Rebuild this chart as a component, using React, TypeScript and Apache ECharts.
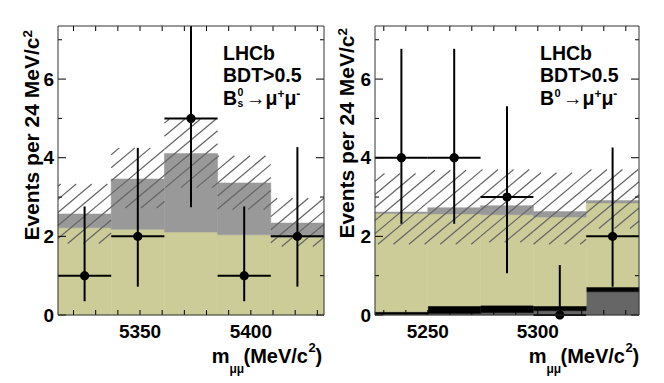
import React, { useEffect, useRef } from 'react';
import * as echarts from 'echarts';

const FF = '"Liberation Sans", Arial, Helvetica, sans-serif';

// ---------- left panel: Bs0 -> mu+ mu-
const bsEdges = [5313, 5337, 5361, 5385, 5409, 5433];
const bsCombinatorial = [2.22, 2.18, 2.11, 2.04, 1.98];
const bsSignal = [0.35, 1.28, 2.0, 1.32, 0.36];
const bsBandLow = [1.82, 2.72, 3.24, 2.68, 1.74];
const bsBandHigh = [3.33, 4.25, 4.98, 4.05, 2.97];
const bsObserved = [1, 2, 5, 1, 2];
const bsErrLow = [0.35, 0.72, 2.74, 0.35, 0.72];
const bsErrHigh = [2.76, 4.25, 7.35, 2.76, 4.27];
const bsXLabels = [5350, 5400];
const bsXTicks = [5320, 5330, 5340, 5350, 5360, 5370, 5380, 5390, 5400, 5410, 5420, 5430];

// ---------- right panel: B0 -> mu+ mu-
const bdEdges = [5226, 5250, 5274, 5298, 5322, 5346];
const bdPeaking = [0.02, 0.04, 0.06, 0.11, 0.59];
const bdMisId = [0.06, 0.19, 0.19, 0.12, 0.12];
const bdCombinatorial = [2.5, 2.34, 2.3, 2.26, 2.14];
const bdSignal = [0.04, 0.16, 0.23, 0.14, 0.06];
const bdBandLow = [1.8, 1.8, 1.85, 1.8, 2.2];
const bdBandHigh = [3.6, 3.68, 3.7, 3.62, 3.7];
const bdObserved = [4, 4, 3, 0, 2];
const bdErrLow = [2.32, 2.32, 1.06, 0, 0.72];
const bdErrHigh = [6.77, 6.77, 5.31, 1.27, 4.26];
const bdXLabels = [5250, 5300];
const bdXTicks = [5230, 5240, 5250, 5260, 5270, 5280, 5290, 5300, 5310, 5320, 5330, 5340];

// ---------- shared
const yLabels = [0, 2, 4, 6];
const yMinorTicks = [1, 3, 5, 7];
const Y_MAX = 7.35;

const KHAKI = '#cccc99';
const GRAY = '#999999';
const DARKGRAY = '#666666';
const BLACK = '#000000';

function histSeries(gi: number, edges: number[], layers: [number[], string][]) {
  const base = edges.slice(1).map(() => 0);
  return layers.map(([vals, color]) => {
    const data = vals.map((v, i) => {
      const d = [edges[i], edges[i + 1], base[i], base[i] + v];
      base[i] += v;
      return d;
    });
    return {
      type: 'custom', xAxisIndex: gi, yAxisIndex: gi, silent: true, clip: false,
      dimensions: ['x0', 'x1', 'y0', 'y1'], encode: { x: [0, 1], y: [2, 3] }, data,
      renderItem: (_p: any, api: any) => {
        const a = api.coord([api.value(0), api.value(3)]);
        const b = api.coord([api.value(1), api.value(2)]);
        return {
          type: 'rect',
          shape: { x: a[0], y: a[1], width: b[0] - a[0], height: b[1] - a[1] },
          style: { fill: color, stroke: color, lineWidth: 0.5 },
        };
      },
    };
  });
}

const HATCH_ANGLE = (40 * Math.PI) / 180;
const HATCH_GAP = 10;

function hatchSeries(gi: number, edges: number[], low: number[], high: number[]) {
  const data = low.map((l, i) => [edges[i], edges[i + 1], l, high[i]]);
  return {
    type: 'custom', xAxisIndex: gi, yAxisIndex: gi, silent: true, clip: false,
    dimensions: ['x0', 'x1', 'y0', 'y1'], encode: { x: [0, 1], y: [2, 3] }, data,
    renderItem: (_p: any, api: any) => {
      const a = api.coord([api.value(0), api.value(3)]);
      const b = api.coord([api.value(1), api.value(2)]);
      const x0 = a[0], x1 = b[0], yT = a[1], yB = b[1];
      const s = Math.sin(HATCH_ANGLE), c = Math.cos(HATCH_ANGLE);
      const kMin = s * x0 + c * yT, kMax = s * x1 + c * yB;
      const children: any[] = [];
      for (let k = Math.ceil(kMin / HATCH_GAP) * HATCH_GAP; k <= kMax; k += HATCH_GAP) {
        const xs = Math.max(x0, (k - c * yB) / s);
        const xe = Math.min(x1, (k - c * yT) / s);
        if (xe - xs < 0.5) continue;
        children.push({
          type: 'line',
          shape: { x1: xs, y1: (k - s * xs) / c, x2: xe, y2: (k - s * xe) / c },
          style: { stroke: '#666666', lineWidth: 1.25 },
        });
      }
      return { type: 'group', children };
    },
  };
}

function pointSeries(gi: number, edges: number[], obs: number[], lo: number[], hi: number[]) {
  const data = obs.map((v, i) => [(edges[i] + edges[i + 1]) / 2, v, edges[i], edges[i + 1], lo[i], hi[i]]);
  return {
    type: 'custom', xAxisIndex: gi, yAxisIndex: gi, silent: true, clip: false,
    dimensions: ['x', 'y', 'xl', 'xh', 'yl', 'yh'], encode: { x: 0, y: 1 }, data,
    renderItem: (_p: any, api: any) => {
      const c = api.coord([api.value(0), api.value(1)]);
      const l = api.coord([api.value(2), api.value(1)]);
      const r = api.coord([api.value(3), api.value(1)]);
      const lo2 = api.coord([api.value(0), api.value(4)]);
      const hi2 = api.coord([api.value(0), Math.min(api.value(5), Y_MAX)]);
      const st = { stroke: BLACK, lineWidth: 2 };
      return {
        type: 'group',
        children: [
          { type: 'line', shape: { x1: c[0], y1: lo2[1], x2: c[0], y2: hi2[1] }, style: st },
          { type: 'line', shape: { x1: l[0], y1: c[1], x2: r[0], y2: c[1] }, style: st },
          { type: 'circle', shape: { cx: c[0], cy: c[1], r: 4.6 }, style: { fill: BLACK } },
        ],
      };
    },
  };
}

function frameSeries(gi: number, xmin: number, xmax: number, xTicks: number[]) {
  const data = [
    ...xTicks.map((v) => [v, 0, 0]),
    ...yLabels.map((v) => [xmin, v, 1]),
    ...yMinorTicks.map((v) => [xmin, v, 2]),
    [xmin, 0, 3],
  ];
  return {
    type: 'custom', xAxisIndex: gi, yAxisIndex: gi, silent: true, clip: false, z: 10,
    dimensions: ['x', 'y', 'k'], encode: { x: 0, y: 1 }, data,
    renderItem: (_p: any, api: any) => {
      const k = api.value(2);
      const bl = api.coord([xmin, 0]);
      const tr = api.coord([xmax, Y_MAX]);
      const st = { stroke: BLACK, lineWidth: 1 };
      if (k === 3) {
        return {
          type: 'rect',
          shape: { x: bl[0], y: tr[1], width: tr[0] - bl[0], height: bl[1] - tr[1] },
          style: { fill: 'none', stroke: '#333333', lineWidth: 1 },
        };
      }
      if (k === 0) {
        const x = api.coord([api.value(0), 0])[0];
        return {
          type: 'group',
          children: [
            { type: 'line', shape: { x1: x, y1: bl[1], x2: x, y2: bl[1] - 5 }, style: st },
            { type: 'line', shape: { x1: x, y1: tr[1], x2: x, y2: tr[1] + 5 }, style: st },
          ],
        };
      }
      const len = k === 1 ? 8 : 4;
      const y = api.coord([xmin, api.value(1)])[1];
      return {
        type: 'group',
        children: [
          { type: 'line', shape: { x1: bl[0], y1: y, x2: bl[0] + len, y2: y }, style: st },
          { type: 'line', shape: { x1: tr[0], y1: y, x2: tr[0] - len, y2: y }, style: st },
        ],
      };
    },
  };
}

const labelStyle = { fontSize: 19, fontWeight: 'bold', color: '#000', fontFamily: FF };

function xAxis(gi: number, edges: number[], labels: number[]) {
  return {
    gridIndex: gi, type: 'value', min: edges[0], max: edges[edges.length - 1],
    axisLine: { show: false }, axisTick: { show: false }, splitLine: { show: false },
    axisLabel: { ...labelStyle, margin: 7, customValues: labels, formatter: (v: number) => String(v) },
  };
}
function yAxis(gi: number) {
  return {
    gridIndex: gi, type: 'value', min: 0, max: Y_MAX,
    axisLine: { show: false }, axisTick: { show: false }, splitLine: { show: false },
    axisLabel: { ...labelStyle, margin: 4, customValues: yLabels, formatter: (v: number) => String(v) },
  };
}

function t(x: number, y: number, text: string, size: number, align = 'left', extra: any = {}) {
  return {
    type: 'text', x, y, silent: true,
    style: { text, font: `bold ${size}px ${FF}`, fill: '#000', textAlign: align, textVerticalAlign: 'middle', ...extra },
  };
}

const TS = 19.5;

function panelTexts(dx: number, isBs: boolean) {
  const tx = 223 + dx;
  const els: any[] = [
    t(tx, 52.5, 'LHCb', TS),
    t(tx, 74.5, 'BDT>0.5', TS),
    t(tx, 97.5, 'B', TS),
  ];
  if (isBs) {
    // stacked superscript 0 / subscript s in one element
    els.push(t(tx + 14.5, 97.5, '0\ns', 10.5, 'left', { lineHeight: 10.5 }));
  } else {
    els.push(t(tx + 14.5, 92.5, '0', 11));
  }
  els.push({
    type: 'text', x: tx + 23, y: 97.5, silent: true,
    style: {
      text: '{n|\u2192\u03bc}{p|+}{n|\u03bc}{p|-}',
      textAlign: 'left', textVerticalAlign: 'middle', fill: '#000',
      rich: {
        n: { fontSize: TS, fontWeight: 'bold', fontFamily: FF, fill: '#000' },
        p: { fontSize: 12, fontWeight: 'bold', fontFamily: FF, fill: '#000', verticalAlign: 'top' },
      },
    },
  });
  // x-axis title m_mumu(MeV/c^2)
  els.push(t(229.5 + dx, 356, 'm', 20, 'right'));
  els.push(t(229.5 + dx, 368.5, '\u03bc\u03bc', 12));
  els.push(t(308 + dx, 356, '(MeV/c', 20, 'right'));
  els.push(t(308.5 + dx, 347, '2', 13));
  els.push(t(315.5 + dx, 356, ')', 20));
  // y-axis title
  els.push({
    type: 'text', x: dx ? 346 : 31, y: dx ? 28 : 30, rotation: Math.PI / 2, silent: true,
    style: {
      text: '{a|Events per 24 MeV/c}{s|2}',
      textAlign: 'right', textVerticalAlign: 'middle', fill: '#000',
      rich: {
        a: { fontSize: 21, fontWeight: 'bold', fontFamily: FF, fill: '#000' },
        s: { fontSize: 13.5, fontWeight: 'bold', fontFamily: FF, fill: '#000', verticalAlign: 'top' },
      },
    },
  });
  return els;
}

function buildOption() {
  return {
    animation: false,
    backgroundColor: '#ffffff',
    textStyle: { fontFamily: FF },
    grid: [
      { left: 58, top: 26, width: 266, height: 289 },
      { left: 375, top: 26, width: 264, height: 289 },
    ],
    xAxis: [xAxis(0, bsEdges, bsXLabels), xAxis(1, bdEdges, bdXLabels)],
    yAxis: [yAxis(0), yAxis(1)],
    series: [
      ...histSeries(0, bsEdges, [[bsCombinatorial, KHAKI], [bsSignal, GRAY]]),
      hatchSeries(0, bsEdges, bsBandLow, bsBandHigh),
      pointSeries(0, bsEdges, bsObserved, bsErrLow, bsErrHigh),
      frameSeries(0, bsEdges[0], bsEdges[5], bsXTicks),
      ...histSeries(1, bdEdges, [[bdPeaking, DARKGRAY], [bdMisId, BLACK], [bdCombinatorial, KHAKI], [bdSignal, GRAY]]),
      hatchSeries(1, bdEdges, bdBandLow, bdBandHigh),
      pointSeries(1, bdEdges, bdObserved, bdErrLow, bdErrHigh),
      frameSeries(1, bdEdges[0], bdEdges[5], bdXTicks),
    ],
    graphic: { elements: [...panelTexts(0, true), ...panelTexts(317, false)] },
  };
}

export default function App() {
  const ref = useRef<HTMLDivElement>(null);
  useEffect(() => {
    const chart = echarts.init(ref.current!, null, { renderer: 'svg' });
    chart.setOption(buildOption() as any);
    return () => chart.dispose();
  }, []);
  return (
    <div
      ref={ref}
      style={{ position: 'fixed', left: 0, top: 0, width: 664, height: 383, background: '#fff' }}
    />
  );
}
